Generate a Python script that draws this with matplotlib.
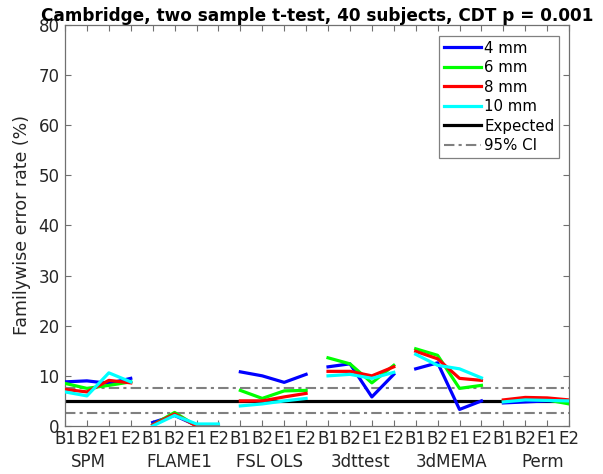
import matplotlib
matplotlib.use("Agg")
import matplotlib.pyplot as plt
from matplotlib.transforms import blended_transform_factory
import numpy as np

# data (familywise error rate, %)
methods = ["SPM", "FLAME1", "FSL OLS", "3dttest", "3dMEMA", "Perm"]
designs = ["B1", "B2", "E1", "E2"]
smoothing = ["4 mm", "6 mm", "8 mm", "10 mm"]

fwe_4mm = [8.8, 9.0, 8.5, 9.5,
           0.7, 2.1, 0.1, 0.1,
           10.8, 10.0, 8.7, 10.3,
           11.8, 12.4, 5.8, 10.3,
           11.4, 12.6, 3.3, 5.0,
           4.6, 4.8, 5.0, 5.0]
fwe_6mm = [8.5, 7.5, 8.1, 8.8,
           0.2, 2.7, 0.0, 0.0,
           7.1, 5.5, 7.0, 7.1,
           13.6, 12.4, 8.6, 12.1,
           15.4, 14.1, 7.5, 8.1,
           5.0, 5.4, 5.2, 4.4]
fwe_8mm = [7.3, 6.8, 9.1, 8.6,
           0.2, 2.4, 0.0, 0.1,
           5.0, 5.0, 5.8, 6.5,
           10.9, 10.9, 10.0, 11.8,
           14.9, 13.4, 9.5, 9.1,
           5.2, 5.7, 5.6, 5.2]
fwe_10mm = [6.8, 6.0, 10.6, 8.8,
            0.0, 2.1, 0.4, 0.4,
            4.0, 4.4, 5.0, 5.5,
            10.0, 10.3, 9.5, 10.7,
            14.3, 12.1, 11.4, 9.6,
            4.8, 5.2, 5.1, 5.0]

expected = 5.0
ci_low, ci_high = 2.5, 7.5

series = [fwe_4mm, fwe_6mm, fwe_8mm, fwe_10mm]
colors = ["#0000ff", "#00ff00", "#ff0000", "#00ffff"]

fig = plt.figure(figsize=(6.03, 4.74), dpi=100)
ax = fig.add_axes([0.1078, 0.1013, 0.836, 0.846])

n_pos = len(methods) * len(designs)
x = np.arange(1, n_pos + 1)

# expected rate and confidence interval
ax.plot([1, n_pos], [expected, expected], color="black", lw=2.3,
        label="Expected", zorder=2)
ci_style = dict(color="#808080", lw=1.5, dashes=(5, 2, 1.5, 2), zorder=1)
ax.plot([1, n_pos], [ci_high, ci_high], label="95% CI", **ci_style)
ax.plot([1, n_pos], [ci_low, ci_low], **ci_style)

# one broken line per smoothing level, one segment per method
handles = []
for vals, col, lab in zip(series, colors, smoothing):
    for g in range(len(methods)):
        sl = slice(g * 4, g * 4 + 4)
        (h,) = ax.plot(x[sl], vals[sl], color=col, lw=2.3, zorder=3)
    handles.append((h, lab))

ax.set_xlim(1, n_pos)
ax.set_ylim(0, 80)
ax.set_xticks(x)
ax.set_xticklabels(designs * len(methods))
ax.set_yticks(np.arange(0, 81, 10))

axis_col = "#707070"
for sp in ax.spines.values():
    sp.set_color(axis_col)
    sp.set_linewidth(0.9)
ax.tick_params(direction="in", length=4, width=0.8, color=axis_col,
               top=True, right=True, labelsize=12, labelcolor="#262626", pad=4)
ax.tick_params(axis="x", pad=3)

ax.set_ylabel("Familywise error rate (%)", fontsize=12.5, color="#262626", labelpad=5)
ax.set_title("Cambridge, two sample t-test, 40 subjects, CDT p = 0.001",
             fontsize=12.2, fontweight="bold", pad=3)

# method names under the design labels
group_x = [2.05, 6.2, 10.35, 14.5, 18.65, 22.8]
trans = blended_transform_factory(ax.transData, ax.transAxes)
for gx, name in zip(group_x, methods):
    ax.text(gx, -0.09, name, transform=trans, ha="center", va="center",
            fontsize=12, color="#262626")

line_handles = [h for h, _ in handles]
line_labels = [l for _, l in handles]
exp_h, ci_h = ax.lines[0], ax.lines[1]
leg = ax.legend(line_handles + [exp_h, ci_h], line_labels + ["Expected", "95% CI"],
                loc="upper right", bbox_to_anchor=(0.98, 0.972), fontsize=10.8,
                fancybox=False, framealpha=1, edgecolor="#808080",
                handlelength=2.5, handletextpad=0.2, labelspacing=0.3,
                borderpad=0.3, borderaxespad=0)
leg.get_frame().set_linewidth(0.9)

fig.savefig("out.png", dpi=100)
